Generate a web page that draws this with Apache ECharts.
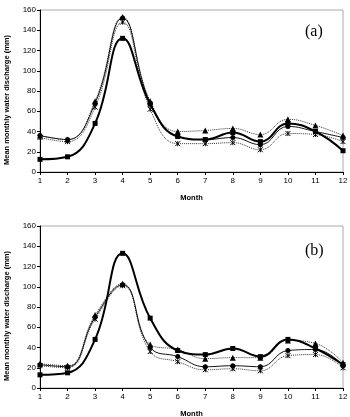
<!DOCTYPE html>
<html>
<head>
<meta charset="utf-8">
<script src="https://cdn.jsdelivr.net/npm/echarts@6/dist/echarts.min.js"></script>
<style>
  html, body { margin: 0; padding: 0; background: #fff; }
  #chart { width: 350px; height: 417px; }
</style>
</head>
<body>
<div id="chart"></div>
<script>
// 月份
const months = ['1', '2', '3', '4', '5', '6', '7', '8', '9', '10', '11', '12'];

// (a) 面板
const aSquare   = [12.5, 15, 48, 132, 67, 35, 32, 39, 30, 48, 40, 21];
const aCircle   = [36, 32, 68, 152, 68, 35, 32, 34, 27, 45, 40, 34];
const aTriangle = [36, 32, 70, 153, 70, 40, 41, 43, 37, 52, 46, 36];
const aCross    = [34, 30, 64, 148, 62, 28, 28, 29, 22, 38, 37, 30];

// (b) 面板
const bSquare   = [13, 15, 48, 133, 69, 37, 33, 39, 31, 48, 39, 23];
const bCircle   = [23, 21, 70, 102, 40, 31, 21, 22, 21, 37, 38, 22];
const bTriangle = [24, 22, 72, 103, 43, 38, 29, 30, 30, 47, 44, 25];
const bCross    = [22, 20, 68, 101, 36, 26, 18, 19, 17, 32, 33, 20];

const yTicks = [0, 160, 20];  // min, max, interval

const crossPath = 'path://M0,0L10,10M10,0L0,10M5,0L5,10';

function xAxisOf(idx) {
    return {
        gridIndex: idx,
        type: 'category',
        data: months,
        boundaryGap: false,
        name: 'Month',
        nameLocation: 'middle',
        nameGap: 22,
        nameTextStyle: { fontSize: 7.5, fontWeight: 'bold', color: '#000', fontFamily: 'Liberation Sans' },
        axisLine: { lineStyle: { color: '#000', width: 1 } },
        axisTick: { show: true, alignWithLabel: true, length: 3, lineStyle: { color: '#000' } },
        axisLabel: { fontSize: 8, color: '#000', margin: 5, fontFamily: 'Liberation Sans' },
        splitLine: { show: false }
    };
}

function yAxisOf(idx) {
    return {
        gridIndex: idx,
        type: 'value',
        min: yTicks[0],
        max: yTicks[1],
        interval: yTicks[2],
        name: 'Mean monthly water discharge (mm)',
        nameLocation: 'middle',
        nameGap: 29,
        nameTextStyle: { fontSize: 7.5, fontWeight: 'bold', color: '#000', fontFamily: 'Liberation Sans', padding: [0, 18, 0, 0] },
        axisLine: { show: true, lineStyle: { color: '#000', width: 1 } },
        axisTick: { show: true, length: 3, lineStyle: { color: '#000' } },
        axisLabel: { fontSize: 8, color: '#000', margin: 4, fontFamily: 'Liberation Sans' },
        splitLine: { show: false }
    };
}

function seriesOf(idx, sq, ci, tr, cr) {
    return [
        {
            type: 'line', xAxisIndex: idx, yAxisIndex: idx, data: tr, smooth: 0.45,
            symbol: 'triangle', symbolSize: 6,
            lineStyle: { color: '#333', width: 1, type: 'dotted' },
            itemStyle: { color: '#000' }
        },
        {
            type: 'line', xAxisIndex: idx, yAxisIndex: idx, data: cr, smooth: 0.45,
            symbol: crossPath, symbolSize: 5,
            lineStyle: { color: '#333', width: 1, type: 'dotted' },
            itemStyle: { color: 'none', borderColor: '#000', borderWidth: 1 }
        },
        {
            type: 'line', xAxisIndex: idx, yAxisIndex: idx, data: ci, smooth: 0.45,
            symbol: 'circle', symbolSize: 5,
            lineStyle: { color: '#111', width: 1 },
            itemStyle: { color: '#000' }
        },
        {
            type: 'line', xAxisIndex: idx, yAxisIndex: idx, data: sq, smooth: 0.45,
            symbol: 'rect', symbolSize: 5,
            lineStyle: { color: '#000', width: 2 },
            itemStyle: { color: '#000' }
        }
    ];
}

let chart = echarts.init(document.getElementById('chart'));
chart.setOption({
    animation: false,
    backgroundColor: '#fff',
    title: [
        { text: '(a)', left: 300, top: 19, textStyle: { fontSize: 16, fontWeight: 'normal', fontFamily: 'Liberation Serif', color: '#000' } },
        { text: '(b)', left: 300, top: 238, textStyle: { fontSize: 16, fontWeight: 'normal', fontFamily: 'Liberation Serif', color: '#000' } }
    ],
    grid: [
        { left: 40, top: 10, width: 303, height: 162, outerBoundsMode: 'none', show: true, borderColor: '#aaa', borderWidth: 1, backgroundColor: 'transparent' },
        { left: 40, top: 226, width: 303, height: 162, outerBoundsMode: 'none', show: true, borderColor: '#aaa', borderWidth: 1, backgroundColor: 'transparent' }
    ],
    xAxis: [xAxisOf(0), xAxisOf(1)],
    yAxis: [yAxisOf(0), yAxisOf(1)],
    series: seriesOf(0, aSquare, aCircle, aTriangle, aCross)
        .concat(seriesOf(1, bSquare, bCircle, bTriangle, bCross))
});
</script>
</body>
</html>
